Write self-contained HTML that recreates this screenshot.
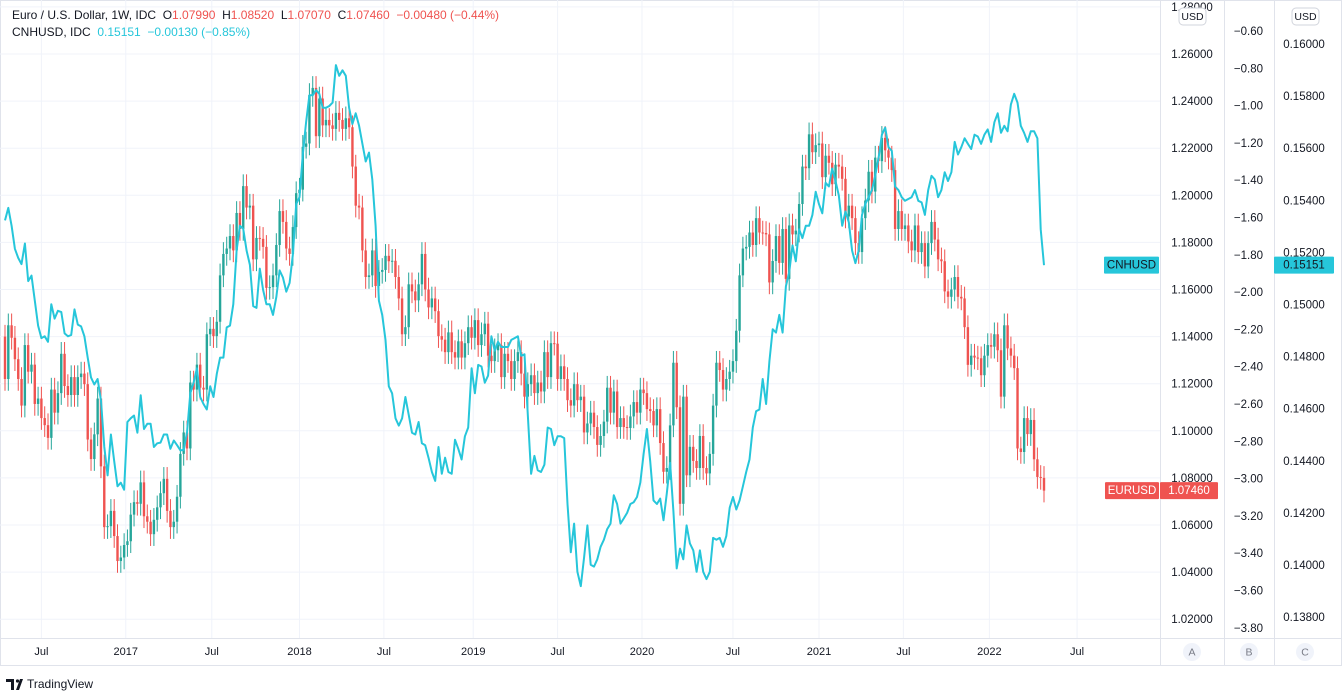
<!DOCTYPE html>
<html><head><meta charset="utf-8">
<style>
html,body{margin:0;padding:0;background:#fff;}
body{width:1342px;height:692px;overflow:hidden;font-family:"Liberation Sans",sans-serif;}
svg text{font-family:"Liberation Sans",sans-serif;}
</style></head>
<body>
<svg id="chart" width="1342" height="692" xmlns="http://www.w3.org/2000/svg"></svg>
<script>
// ---- data ----
const closes = [
1.1220,1.1448,1.1395,1.1304,1.1220,1.1107,1.1364,1.1251,1.1281,1.1114,
1.1137,1.1054,1.1024,1.0970,1.1175,1.1077,1.1160,1.1327,1.1190,1.1152,
1.1228,1.1152,1.1228,1.1243,1.1198,1.0963,1.0880,1.0985,1.1137,1.0849,
1.0591,1.0595,1.0660,1.0553,1.0447,1.0462,1.0515,1.0531,1.0644,1.0697,
1.0690,1.0781,1.0637,1.0614,1.0561,1.0622,1.0675,1.0735,1.0796,1.0660,
1.0591,1.0614,1.0720,1.0902,1.0993,1.0925,1.1205,1.1175,1.1281,1.1183,
1.1175,1.1410,1.1433,1.1402,1.1463,1.1660,1.1751,1.1774,1.1827,1.1766,
1.1925,1.1857,1.2039,1.1948,1.1956,1.1728,1.1819,1.1815,1.1781,1.1607,
1.1610,1.1660,1.1789,1.1933,1.1887,1.1774,1.1751,1.1865,1.2009,1.2024,
1.2206,1.2220,1.2426,1.2456,1.2251,1.2411,1.2297,1.2320,1.2297,1.2282,
1.2350,1.2320,1.2282,1.2327,1.2289,1.2122,1.1956,1.1948,1.1766,1.1653,
1.1660,1.1766,1.1615,1.1675,1.1683,1.1743,1.1720,1.1722,1.1653,1.1562,
1.1410,1.1440,1.1622,1.1592,1.1554,1.1622,1.1751,1.1600,1.1524,1.1562,
1.1508,1.1402,1.1387,1.1334,1.1418,1.1334,1.1311,1.1380,1.1311,1.1372,
1.1440,1.1395,1.1470,1.1364,1.1410,1.1455,1.1319,1.1296,1.1342,1.1364,
1.1228,1.1327,1.1296,1.1220,1.1296,1.1334,1.1243,1.1145,1.1198,1.1236,
1.1160,1.1205,1.1167,1.1334,1.1228,1.1372,1.1370,1.1220,1.1274,1.1220,
1.1130,1.1107,1.1198,1.1130,1.1145,1.0993,1.1031,1.1077,1.1016,1.0940,
1.0978,1.1039,1.1183,1.1077,1.1167,1.1016,1.1054,1.1016,1.1012,1.1061,
1.1122,1.1077,1.1175,1.1160,1.1092,1.1084,1.1023,1.1092,1.0948,1.0826,
1.0842,1.1023,1.1289,1.1100,1.0690,1.1145,1.0811,1.0932,1.0872,1.0842,
1.0978,1.0842,1.0819,1.0902,1.1107,1.1289,1.1258,1.1175,1.1220,1.1251,
1.1296,1.1425,1.1660,1.1774,1.1781,1.1842,1.1789,1.1903,1.1842,1.1840,
1.1834,1.1630,1.1721,1.1827,1.1713,1.1857,1.1645,1.1872,1.1834,1.1850,
1.1963,1.2122,1.2115,1.2259,1.2183,1.2213,1.2220,1.2077,1.2168,1.2138,
1.2047,1.2130,1.2122,1.2070,1.1910,1.1956,1.1903,1.1797,1.1759,1.1903,
1.1978,1.2100,1.2016,1.2160,1.2145,1.2244,1.2191,1.2160,1.2107,1.1857,
1.1933,1.1857,1.1872,1.1804,1.1766,1.1872,1.1759,1.1797,1.1698,1.1797,
1.1887,1.1812,1.1728,1.1720,1.1592,1.1569,1.1600,1.1653,1.1569,1.1562,
1.1440,1.1280,1.1319,1.1311,1.1308,1.1236,1.1319,1.1364,1.1357,1.1410,
1.1342,1.1145,1.1448,1.1350,1.1319,1.1266,1.0925,1.0910,1.1054,1.0986,
1.1046,1.0879,1.0804,1.0800,1.0746
];
const firstOpen = 1.1400;
const cnh = [
0.15323,0.15371,0.15302,0.15214,0.15179,0.15155,0.15234,0.15090,0.15111,0.15015,
0.14919,0.14871,0.14878,0.14857,0.15001,0.14946,0.14976,0.14971,0.14889,0.14878,
0.14883,0.14981,0.14923,0.14916,0.14878,0.14796,0.14720,0.14693,0.14714,0.14631,
0.14453,0.14344,0.14501,0.14399,0.14302,0.14316,0.14289,0.14549,0.14563,0.14574,
0.14508,0.14652,0.14522,0.14542,0.14542,0.14453,0.14467,0.14470,0.14501,0.14501,
0.14446,0.14478,0.14460,0.14440,0.14442,0.14508,0.14659,0.14700,0.14755,0.14645,
0.14618,0.14597,0.14686,0.14645,0.14734,0.14796,0.14796,0.14912,0.14919,0.15001,
0.15207,0.15302,0.15291,0.15207,0.15152,0.14994,0.14987,0.15138,0.15056,0.15001,
0.15001,0.14960,0.15028,0.15131,0.15104,0.15049,0.15083,0.15193,0.15385,0.15412,
0.15576,0.15700,0.15803,0.15803,0.15823,0.15809,0.15755,0.15755,0.15762,0.15775,
0.15919,0.15878,0.15899,0.15878,0.15755,0.15693,0.15734,0.15686,0.15617,0.15549,
0.15583,0.15480,0.15302,0.15015,0.14960,0.14864,0.14686,0.14659,0.14563,0.14535,
0.14563,0.14645,0.14577,0.14508,0.14501,0.14549,0.14467,0.14460,0.14412,0.14357,
0.14323,0.14453,0.14350,0.14412,0.14357,0.14350,0.14481,0.14446,0.14405,0.14494,
0.14528,0.14755,0.14659,0.14768,0.14762,0.14700,0.14727,0.14878,0.14823,0.14857,
0.14837,0.14837,0.14837,0.14864,0.14871,0.14878,0.14803,0.14809,0.14577,0.14350,
0.14419,0.14364,0.14357,0.14385,0.14528,0.14522,0.14460,0.14494,0.14494,0.14487,
0.14234,0.14049,0.14159,0.13974,0.13919,0.14029,
0.14152,0.14001,0.13994,0.14022,0.14070,0.14097,0.14138,0.14159,0.14268,0.14234,
0.14159,0.14179,0.14200,0.14234,0.14241,0.14261,0.14316,0.14426,0.14522,0.14399,
0.14248,0.14234,0.14255,0.14172,0.14275,0.14392,0.14207,0.13987,
0.14063,0.14022,0.14152,0.14083,0.14056,0.13974,0.14056,0.13974,0.13946,0.13974,
0.14104,0.14097,0.14104,0.14070,0.14111,0.14220,0.14261,0.14213,0.14248,0.14302,
0.14357,0.14405,0.14528,0.14590,0.14597,0.14714,0.14618,0.14782,0.14905,0.14892,
0.14960,0.14892,0.15070,0.15124,0.15227,0.15166,0.15289,0.15255,0.15302,0.15302,
0.15344,0.15433,0.15385,0.15350,0.15467,0.15453,0.15522,0.15474,0.15419,0.15302,
0.15357,0.15316,0.15207,0.15159,0.15207,0.15344,0.15385,0.15412,0.15439,0.15494,
0.15563,0.15652,0.15679,0.15604,0.15590,0.15453,0.15439,0.15412,0.15398,0.15405,0.15412,
0.15439,0.15398,0.15392,0.15344,0.15439,0.15494,0.15480,0.15412,0.15439,0.15508,
0.15474,0.15508,0.15624,0.15576,0.15604,0.15638,0.15617,0.15597,0.15652,0.15645,
0.15617,0.15652,0.15672,0.15624,0.15700,0.15734,0.15659,0.15686,0.15665,0.15768,
0.15809,0.15775,0.15686,0.15659,0.15624,0.15665,0.15665,0.15638,0.15289,0.15151
];
const eurTicks = ["1.28000","1.26000","1.24000","1.22000","1.20000","1.18000","1.16000","1.14000","1.12000","1.10000","1.08000","1.06000","1.04000","1.02000"];
const bTicks = ["-0.60","-0.80","-1.00","-1.20","-1.40","-1.60","-1.80","-2.00","-2.20","-2.40","-2.60","-2.80","-3.00","-3.20","-3.40","-3.60","-3.80"];
const cnhTicks = ["0.16000","0.15800","0.15600","0.15400","0.15200","0.15000","0.14800","0.14600","0.14400","0.14200","0.14000","0.13800"];
const timeLabels = ["Jul","2017","Jul","2018","Jul","2019","Jul","2020","Jul","2021","Jul","2022","Jul"];
const timeWeeks = [11,36.5,62.5,89,114.5,141.5,167,192.5,220,246,271.5,297.5,324];

// ---- scales ----
const NS='http://www.w3.org/2000/svg';
const svg=document.getElementById('chart');
const xW = i => 5 + i*(1039/(closes.length-1));
const yE = p => 54 + (1.26-p)/0.02*47.1;
const yC = v => 44 + (0.16-v)/0.002*52.1;
const yB = v => 31 + (-0.6-v)/0.2*37.3;
function el(tag,attrs,parent){const e=document.createElementNS(NS,tag);for(const k in attrs)e.setAttribute(k,attrs[k]);(parent||svg).appendChild(e);return e;}

el('rect',{x:0.5,y:0.5,width:1341,height:665,fill:'#fff',stroke:'#e0e3eb'});
const grid=el('g',{});


eurTicks.forEach((t,k)=>{const y=yE(1.28-0.02*k);if(y>2)el('line',{x1:0,x2:1160,y1:y,y2:y,stroke:'#f0f3fa','stroke-width':1},grid);});
timeWeeks.forEach(w=>{const x=xW(w);el('line',{x1:x,x2:x,y1:0,y2:638,stroke:'#f0f3fa','stroke-width':1},grid);});

const cg=el('g',{});


closes.forEach((c,i)=>{
  const o = i===0?firstOpen:closes[i-1];
  const up = c>=o;
  const col = up?'#26a69a':'#ef5350';
  const hi = Math.max(o,c)+0.005, lo=Math.min(o,c)-0.005;
  const x=xW(i);
  const g=el('g',{},cg);
  
  
  el('line',{x1:x,x2:x,y1:yE(hi),y2:yE(lo),stroke:col,'stroke-width':1},g);
  const y1=yE(Math.max(o,c)),y2=yE(Math.min(o,c));
  el('rect',{x:x-1.2,y:y1,width:2.4,height:Math.max(1,y2-y1),fill:col},g);
});

let d='';
cnh.forEach((v,i)=>{d+=(i?'L':'M')+xW(i).toFixed(1)+','+yC(v).toFixed(1);});
const ln=el('path',{d:d,fill:'none',stroke:'#26c6da','stroke-width':2,'stroke-linejoin':'round'});



el('line',{x1:1160.5,x2:1160.5,y1:0,y2:665,stroke:'#e0e3eb'});
el('line',{x1:1224.5,x2:1224.5,y1:0,y2:665,stroke:'#e0e3eb'});
el('line',{x1:1274.5,x2:1274.5,y1:0,y2:665,stroke:'#e0e3eb'});
el('line',{x1:0,x2:1342,y1:638.5,y2:638.5,stroke:'#e0e3eb'});

function txt(s,x,y,anchor,fill,size,parent){const t=el('text',{x:x,y:y,'text-anchor':anchor||'start',fill:fill||'#131722','font-size':size||11,'dominant-baseline':'middle'},parent);t.textContent=s;return t;}

const axA=el('g',{});


eurTicks.forEach((t,k)=>{txt(t,1192,yE(1.28-0.02*k)+1,'middle','#131722',11.5,axA);});
const axB=el('g',{});


bTicks.forEach((t,k)=>{txt(t.replace('-','\u2212'),1263,yB(-0.6-0.2*k)+1,'end','#131722',11.5,axB);});
const axC=el('g',{});


cnhTicks.forEach((t,k)=>{txt(t,1304,yC(0.16-0.002*k)+1,'middle','#131722',11.5,axC);});

const tx=el('g',{});


timeLabels.forEach((t,k)=>{txt(t,xW(timeWeeks[k]),652,'middle','#131722',11,tx);});

[1179,1292].forEach(a=>{
  const g=el('g',{});
  
  
  el('rect',{x:a,y:8,width:27,height:17,rx:4,fill:'#fff',stroke:'#d1d4dc'},g);
  txt('USD',a+13.5,17,'middle','#131722',10.5,g);
});
[['A',1192],['B',1249],['C',1305]].forEach(([s,x])=>{
  const g=el('g',{});
  
  
  el('circle',{cx:x,cy:652,r:9,fill:'#f0f3fa'},g);
  txt(s,x,652.5,'middle','#787b86',10.5,g);
});

function tag(x,y,w,label,bg,fg,name){const g=el('g',{});el('rect',{x:x,y:y-8.5,width:w,height:17,fill:bg,rx:1},g);txt(label,x+w/2,y+0.5,'middle',fg,11.5,g);}
const yCn=yC(cnh[cnh.length-1]), yEu=yE(closes[closes.length-1]);
tag(1104,yCn,55,'CNHUSD','#26c6da','#131722','cnhusd-tag');
tag(1274,yCn,60,'0.15151','#26c6da','#131722','cnhusd-price-tag');
tag(1105,yEu,54,'EURUSD','#ef5350','#fff','eurusd-tag');
tag(1160,yEu,58,'1.07460','#ef5350','#fff','eurusd-price-tag');

const lg=el('text',{x:12,y:16,'font-size':12,fill:'#131722','dominant-baseline':'middle',style:'white-space:pre'});


lg.innerHTML='Euro / U.S. Dollar, 1W, IDC  O<tspan fill="#ef5350">1.07990</tspan>  H<tspan fill="#ef5350">1.08520</tspan>  L<tspan fill="#ef5350">1.07070</tspan>  C<tspan fill="#ef5350">1.07460</tspan>  <tspan fill="#ef5350">\u22120.00480 (\u22120.44%)</tspan>';
const lg2=el('text',{x:12,y:33,'font-size':12,fill:'#131722','dominant-baseline':'middle',style:'white-space:pre'});


lg2.innerHTML='CNHUSD, IDC  <tspan fill="#26c6da">0.15151  \u22120.00130 (\u22120.85%)</tspan>';

const lo=el('g',{});


el('path',{d:'M6 679h8v11h-3v-8h-5z M16 690l4-11h3l-4 11z',fill:'#131722'},lo);
el('circle',{cx:17.5,cy:681,r:1.6,fill:'#131722'},lo);
txt('TradingView',27,685,'start','#131722',12,lo);
</script>
</body></html>
